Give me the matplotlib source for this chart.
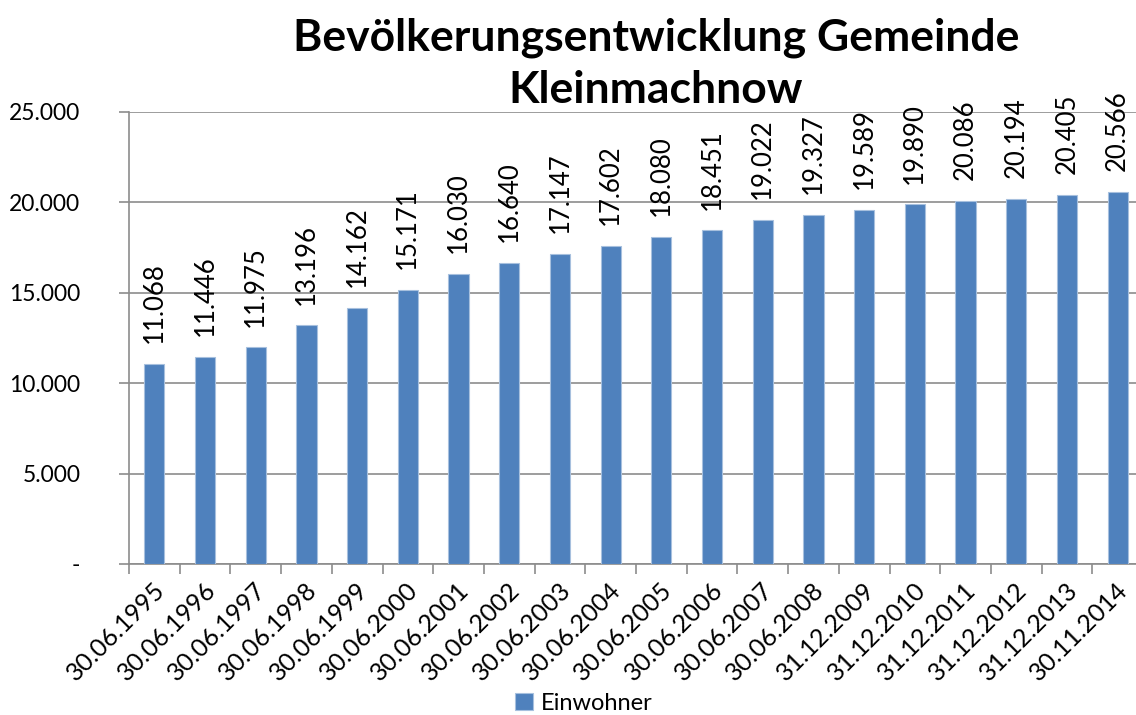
import matplotlib
matplotlib.use("Agg")
import matplotlib.pyplot as plt
import matplotlib.transforms as mtransforms
import numpy as np

dates = ["30.06.1995", "30.06.1996", "30.06.1997", "30.06.1998", "30.06.1999",
         "30.06.2000", "30.06.2001", "30.06.2002", "30.06.2003", "30.06.2004",
         "30.06.2005", "30.06.2006", "30.06.2007", "30.06.2008", "31.12.2009",
         "31.12.2010", "31.12.2011", "31.12.2012", "31.12.2013", "30.11.2014"]
einwohner = [11068, 11446, 11975, 13196, 14162, 15171, 16030, 16640, 17147, 17602,
             18080, 18451, 19022, 19327, 19589, 19890, 20086, 20194, 20405, 20566]
yticks = [0, 5000, 10000, 15000, 20000, 25000]
ytick_labels = ["-", "5.000", "10.000", "15.000", "20.000", "25.000"]
title_lines = ["Bevölkerungsentwicklung Gemeinde", "Kleinmachnow"]
series_name = "Einwohner"

plt.rcParams['font.family'] = ['Lato', 'DejaVu Sans']

fig = plt.figure(figsize=(11.36, 7.15), dpi=100)
ax = fig.add_axes([129/1136, 1 - 564/715, (1143-129)/1136, (564-112)/715])

x = np.arange(len(dates))
bars = ax.bar(x, einwohner, width=0.4, color="#4F81BD", edgecolor="#A7C0DE",
              linewidth=0.8, label=series_name, zorder=3)

def fmt(v):
    return f"{v:,}".replace(",", ".")

for xi, v in zip(x, einwohner):
    ax.annotate(fmt(v), (xi, v), xytext=(0, 15), textcoords="offset points",
                rotation=90, ha="center", va="bottom", fontsize=18.5, color="black")

ax.set_xlim(-0.5, len(dates) - 0.5)
ax.set_ylim(0, 25000)
ax.set_yticks(yticks)
ax.set_yticklabels(ytick_labels, fontsize=16.5)
ax.yaxis.grid(True, color="#8c8c8c", linewidth=1.2, zorder=0)
ax.set_axisbelow(True)

ax.set_xticks(np.arange(len(dates) + 1) - 0.5)
ax.set_xticklabels([])
ax.set_xticks(x, minor=True)
ax.set_xticklabels(dates, minor=True, rotation=45, ha="right", va="baseline",
                   rotation_mode="anchor", fontsize=18)
ax.tick_params(axis="x", which="minor", length=0, pad=20)
ax.tick_params(axis="x", which="major", length=7, width=1.2, color="#8c8c8c", direction="out")
ax.tick_params(axis="y", length=7, width=1.2, color="#8c8c8c", pad=28)
for lbl in ax.get_yticklabels():
    lbl.set_horizontalalignment("right")
shift = mtransforms.ScaledTranslation(12/100, 0, fig.dpi_scale_trans)
for lbl in ax.get_xticklabels(minor=True):
    lbl.set_transform(lbl.get_transform() + shift)

for s in ["top", "right"]:
    ax.spines[s].set_visible(False)
for s in ["left", "bottom"]:
    ax.spines[s].set_color("#8c8c8c")
    ax.spines[s].set_linewidth(1.2)

fig.text(656/1136, 1 - 50/715, title_lines[0], ha="center", va="baseline", fontsize=32,
         fontweight="bold")
fig.text(656/1136, 1 - 103/715, title_lines[1], ha="center", va="baseline", fontsize=32,
         fontweight="bold")

fig.legend(handles=[bars], labels=[series_name], loc="center", bbox_to_anchor=(584/1136, 1 - 703/715),
           frameon=False, fontsize=17, handlelength=0.75, handleheight=0.75, handletextpad=0.35)

fig.savefig("out.png", dpi=100)
